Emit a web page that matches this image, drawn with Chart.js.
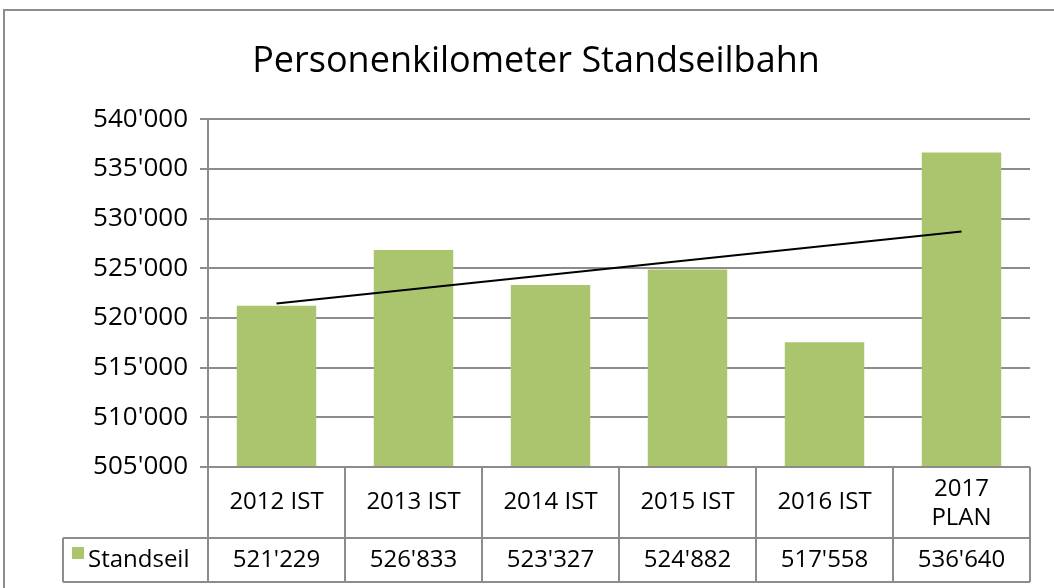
<!DOCTYPE html>
<html>
<head>
<meta charset="utf-8">
<script src="https://cdn.jsdelivr.net/npm/chart.js@4/dist/chart.umd.min.js"></script>
<style>
  html, body { margin: 0; padding: 0; background: #fff; }
  #wrap { position: relative; width: 1054px; height: 588px; overflow: hidden; }
</style>
</head>
<body>
<div id="wrap"><canvas id="chart" width="1054" height="588"></canvas></div>
<script>
// ======================
// Daten
// ======================
const categories = ["2012 IST", "2013 IST", "2014 IST", "2015 IST", "2016 IST", ["2017", "PLAN"]];
const standseil = [521229, 526833, 523327, 524882, 517558, 536640];
// Trendlinie (Endpunkte)
const trend = [521450, null, null, null, null, 528706];
const seriesName = "Standseil";

const FONT = "'Open Sans', 'Noto Sans', sans-serif";
const GRID = "#8c8c8c";
const GREEN = "#aac56e";

// Zahl mit Apostroph als Tausendertrenner
function fmt(v) {
    return String(v).replace(/\B(?=(\d{3})+(?!\d))/g, "'");
}

// ========== Datentabelle + Rahmen ==========
const tablePlugin = {
    id: "dataTable",
    afterDraw(chart) {
        const ctx = chart.ctx;
        const x = chart.scales.x;
        const area = chart.chartArea;
        const n = categories.length;
        const step = (area.right - area.left) / n;
        const top = area.bottom;
        const mid = top + 71;
        const bot = mid + 44;
        const legendLeft = 63;

        ctx.save();
        ctx.strokeStyle = GRID;
        ctx.lineWidth = 2;

        // äusserer Rahmen
        ctx.strokeRect(4, 10, 1200, 1200);

        ctx.beginPath();
        ctx.moveTo(area.left, top); ctx.lineTo(area.right, top);
        ctx.moveTo(legendLeft, mid); ctx.lineTo(area.right, mid);
        ctx.moveTo(legendLeft, bot); ctx.lineTo(area.right, bot);
        ctx.moveTo(legendLeft, mid); ctx.lineTo(legendLeft, bot);
        for (let i = 0; i <= n; i++) {
            const px = area.left + i * step;
            ctx.moveTo(px, top); ctx.lineTo(px, bot);
        }
        ctx.stroke();

        ctx.fillStyle = "#000";
        ctx.font = "24px " + FONT;
        ctx.textAlign = "center";
        ctx.textBaseline = "middle";
        categories.forEach((c, i) => {
            const cx = x.getPixelForValue(i);
            if (Array.isArray(c)) {
                ctx.fillText(c[0], cx, top + 22);
                ctx.fillText(c[1], cx, top + 51);
            } else {
                ctx.fillText(c, cx, (top + mid) / 2);
            }
            ctx.fillText(fmt(standseil[i]), cx, (mid + bot) / 2);
        });

        // Legendenzelle
        ctx.fillStyle = GREEN;
        ctx.fillRect(72, mid + 9, 12, 12);
        ctx.fillStyle = "#000";
        ctx.textAlign = "left";
        ctx.fillText(seriesName, 88, (mid + bot) / 2);
        ctx.restore();
    }
};

new Chart(document.getElementById("chart"), {
    type: "bar",
    data: {
        labels: categories,
        datasets: [
            {
                type: "line",
                label: "Trend",
                data: trend,
                spanGaps: true,
                borderColor: "#000",
                borderWidth: 2,
                pointRadius: 0,
                order: 0
            },
            {
                label: seriesName,
                data: standseil,
                backgroundColor: GREEN,
                categoryPercentage: 1,
                barPercentage: 0.58,
                order: 1
            }
        ]
    },
    options: {
        responsive: false,
        animation: false,
        layout: { padding: { left: 42, right: 24, top: 0, bottom: 121 } },
        plugins: {
            legend: { display: false },
            tooltip: { enabled: false },
            title: {
                display: true,
                text: "Personenkilometer Standseilbahn",
                color: "#000",
                font: { family: FONT, size: 36, weight: "normal" },
                padding: { top: 40, bottom: 36 }
            }
        },
        scales: {
            x: { display: false },
            y: {
                min: 505000,
                max: 540000,
                afterFit: s => { s.width = 166; },
                ticks: {
                    stepSize: 5000,
                    color: "#000",
                    padding: 12,
                    font: { family: FONT, size: 26 },
                    callback: v => fmt(v)
                },
                grid: { color: GRID, lineWidth: 2, tickLength: 8 },
                border: { color: GRID, width: 2 }
            }
        }
    },
    plugins: [tablePlugin]
});
</script>
</body>
</html>
